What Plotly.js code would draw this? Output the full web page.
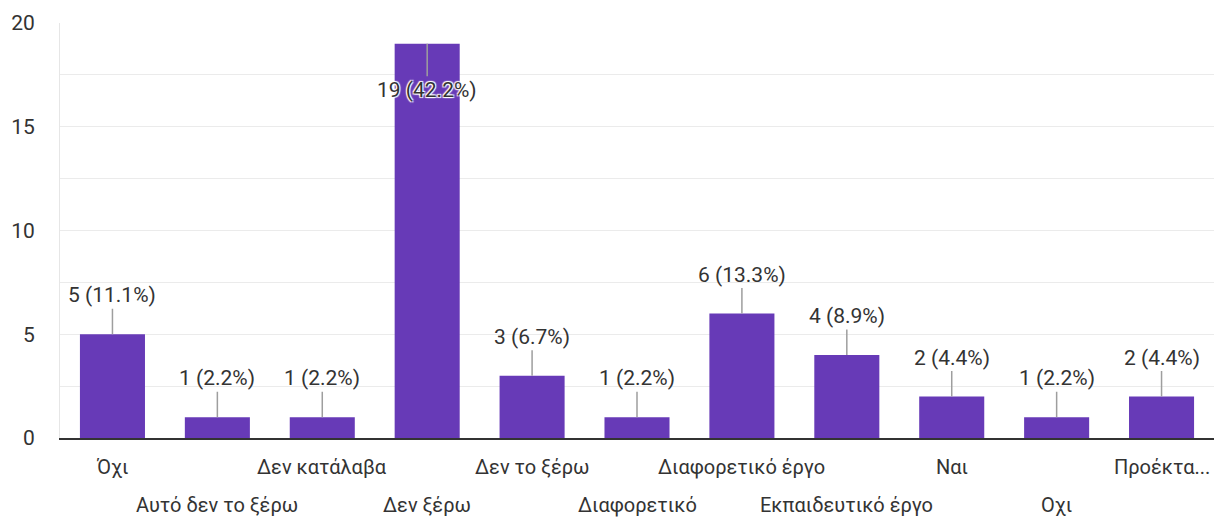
<!DOCTYPE html>
<html>
<head>
<meta charset="utf-8">
<script src="https://cdn.plot.ly/plotly-3.0.1.min.js"></script>
<style>
  html, body { margin: 0; padding: 0; background: #ffffff; }
  #chart { width: 1214px; height: 523px; }
</style>
</head>
<body>
<div id="chart"></div>
<script>
// ---- data ----
const categories = [
  "Όχι", "Αυτό δεν το ξέρω", "Δεν κατάλαβα", "Δεν ξέρω", "Δεν το ξέρω",
  "Διαφορετικό", "Διαφορετικό έργο", "Εκπαιδευτικό έργο", "Ναι", "Οχι", "Προέκτα..."
];
const counts = [5, 1, 1, 19, 3, 1, 6, 4, 2, 1, 2];
const percentLabels = ["11.1%", "2.2%", "2.2%", "42.2%", "6.7%", "2.2%", "13.3%", "8.9%", "4.4%", "2.2%", "4.4%"];
const yTickValues = [0, 5, 10, 15, 20];

const FONT = "Roboto, 'Noto Sans', Arial, sans-serif";
const TEXT = "#333333";
const yMax = 20;

const annotations = [];
categories.forEach((c, i) => {
  const inside = counts[i] > 16; // no room above: label hangs down into the bar
  annotations.push({
    x: c, y: counts[i], xref: "x", yref: "y",
    text: counts[i] + " (" + percentLabels[i] + ")",
    showarrow: true, arrowhead: 0, arrowwidth: 1.5, arrowcolor: "#9e9e9e",
    ax: 0, ay: inside ? 46 : -39,
    font: inside
      ? { family: FONT, size: 21, color: TEXT,
          shadow: "1px 1px 1px #fff, -1px -1px 1px #fff, 1px -1px 1px #fff, -1px 1px 1px #fff" }
      : { family: FONT, size: 21, color: TEXT }
  });
  // staggered category labels
  annotations.push({
    x: c, xref: "x", y: 0, yref: "paper",
    text: c, showarrow: false,
    yanchor: "middle", yshift: (i % 2 === 0) ? -29 : -67,
    font: { family: FONT, size: 20, color: TEXT }
  });
});

const trace = {
  type: "bar",
  x: categories,
  y: counts,
  marker: { color: "#673ab7" },
  hoverinfo: "x+y"
};

const layout = {
  width: 1214, height: 523,
  margin: { l: 60, r: 0, t: 23, b: 85 },
  paper_bgcolor: "#ffffff", plot_bgcolor: "#ffffff",
  bargap: 0.38,
  showlegend: false,
  font: { family: FONT, color: TEXT, size: 21 },
  xaxis: {
    type: "category",
    showticklabels: false,
    showgrid: false,
    zeroline: false,
    showline: true, linecolor: "#333333", linewidth: 2,
    fixedrange: true
  },
  yaxis: {
    range: [0, yMax],
    tickvals: yTickValues,
    ticktext: yTickValues.map(String),
    showgrid: true, gridcolor: "#ebebeb", gridwidth: 1,
    minor: { dtick: 2.5, showgrid: true, gridcolor: "#ebebeb", gridwidth: 1 },
    zeroline: false,
    showline: true, linecolor: "#e6e6e6", linewidth: 1,
    ticks: "", ticklabelstandoff: 20,
    tickfont: { family: FONT, size: 21, color: TEXT },
    fixedrange: true
  },
  annotations: annotations
};

Plotly.newPlot("chart", [trace], layout, { displayModeBar: false, staticPlot: true });
</script>
</body>
</html>
